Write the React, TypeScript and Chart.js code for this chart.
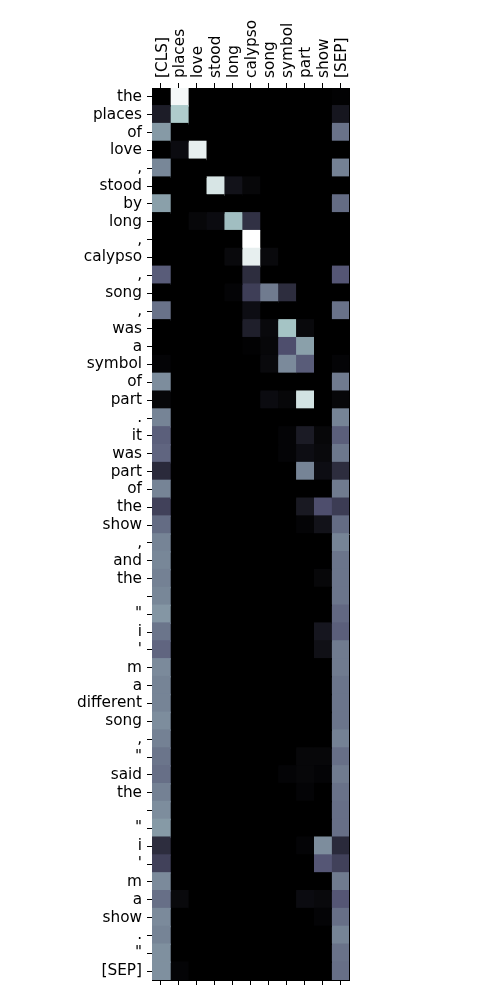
import React, { useEffect, useRef } from "react";
import { Chart, registerables } from "chart.js";

Chart.register(...registerables);

const columnLabels = ["[CLS]", "places", "love", "stood", "long", "calypso", "song", "symbol", "part", "show", "[SEP]"];

const rowLabels = [
  "the", "places", "of", "love", ",", "stood", "by", "long", ",", "calypso",
  ",", "song", ",", "was", "a", "symbol", "of", "part", ".", "it",
  "was", "part", "of", "the", "show", ",", "and", "the", "", "\"",
  "i", "'", "m", "a", "different", "song", ",", "\"", "said", "the",
  "", "\"", "i", "'", "m", "a", "show", ".", "\"", "[SEP]",
];

// attention weights per column (one value per row)
const clsWeights = [
  0, 0.13, 0.6, 0, 0.54, 0, 0.62, 0, 0, 0,
  0.4, 0, 0.47, 0, 0, 0.02, 0.56, 0.03, 0.53, 0.41,
  0.43, 0.19, 0.53, 0.29, 0.45, 0.53, 0.54, 0.52, 0.54, 0.59,
  0.48, 0.43, 0.55, 0.53, 0.53, 0.56, 0.52, 0.48, 0.46, 0.52,
  0.56, 0.6, 0.2, 0.29, 0.55, 0.46, 0.55, 0.53, 0.57, 0.57,
];
const placesWeights = [
  0.97, 0.77, 0, 0.05, 0, 0, 0, 0, 0, 0,
  0, 0, 0, 0, 0, 0, 0, 0, 0, 0,
  0, 0, 0, 0, 0, 0, 0, 0, 0, 0,
  0, 0, 0, 0, 0, 0, 0, 0, 0, 0,
  0, 0, 0, 0, 0, 0.04, 0, 0, 0, 0.02,
];
const loveWeights = [
  0, 0, 0, 0.93, 0, 0, 0, 0.03, 0, 0,
  0, 0, 0, 0, 0, 0, 0, 0, 0, 0,
  0, 0, 0, 0, 0, 0, 0, 0, 0, 0,
  0, 0, 0, 0, 0, 0, 0, 0, 0, 0,
  0, 0, 0, 0, 0, 0, 0, 0, 0, 0,
];
const stoodWeights = [
  0, 0, 0, 0, 0, 0.885, 0, 0.05, 0, 0,
  0, 0, 0, 0, 0, 0, 0, 0, 0, 0,
  0, 0, 0, 0, 0, 0, 0, 0, 0, 0,
  0, 0, 0, 0, 0, 0, 0, 0, 0, 0,
  0, 0, 0, 0, 0, 0, 0, 0, 0, 0,
];
const longWeights = [
  0, 0, 0, 0, 0, 0.08, 0, 0.72, 0, 0.04,
  0, 0.02, 0, 0, 0, 0, 0, 0, 0, 0,
  0, 0, 0, 0, 0, 0, 0, 0, 0, 0,
  0, 0, 0, 0, 0, 0, 0, 0, 0, 0,
  0, 0, 0, 0, 0, 0, 0, 0, 0, 0,
];
const calypsoWeights = [
  0, 0, 0, 0, 0, 0.03, 0, 0.22, 1, 0.93,
  0.2, 0.28, 0.06, 0.14, 0.01, 0, 0, 0, 0, 0,
  0, 0, 0, 0, 0, 0, 0, 0, 0, 0,
  0, 0, 0, 0, 0, 0, 0, 0, 0, 0,
  0, 0, 0, 0, 0, 0, 0, 0, 0, 0,
];
const songWeights = [
  0, 0, 0, 0, 0, 0, 0, 0, 0, 0.04,
  0, 0.5, 0, 0.04, 0.03, 0.04, 0, 0.05, 0, 0,
  0, 0, 0, 0, 0, 0, 0, 0, 0, 0,
  0, 0, 0, 0, 0, 0, 0, 0, 0, 0,
  0, 0, 0, 0, 0, 0, 0, 0, 0, 0,
];
const symbolWeights = [
  0, 0, 0, 0, 0, 0, 0, 0, 0, 0,
  0, 0.2, 0, 0.74, 0.35, 0.55, 0, 0.03, 0, 0.02,
  0.02, 0, 0, 0, 0, 0, 0, 0, 0, 0,
  0, 0, 0, 0, 0, 0, 0, 0, 0.02, 0,
  0, 0, 0, 0, 0, 0, 0, 0, 0, 0,
];
const partWeights = [
  0, 0, 0, 0, 0, 0, 0, 0, 0, 0,
  0, 0, 0, 0.04, 0.62, 0.4, 0, 0.87, 0, 0.12,
  0.06, 0.53, 0, 0.11, 0.02, 0, 0, 0, 0, 0,
  0, 0, 0, 0, 0, 0, 0, 0.03, 0.03, 0.02,
  0, 0, 0.02, 0, 0, 0.05, 0, 0, 0, 0,
];
const showWeights = [
  0, 0, 0, 0, 0, 0, 0, 0, 0, 0,
  0, 0, 0, 0, 0, 0, 0, 0, 0, 0.03,
  0.04, 0.06, 0, 0.35, 0.08, 0, 0, 0.03, 0, 0,
  0.1, 0.07, 0, 0, 0, 0, 0, 0.03, 0.02, 0,
  0, 0, 0.56, 0.38, 0, 0.04, 0.02, 0, 0, 0,
];
const sepWeights = [
  0.01, 0.1, 0.47, 0, 0.52, 0, 0.45, 0, 0, 0,
  0.38, 0, 0.47, 0, 0, 0.02, 0.5, 0.03, 0.53, 0.41,
  0.49, 0.2, 0.5, 0.27, 0.45, 0.53, 0.48, 0.48, 0.48, 0.44,
  0.41, 0.5, 0.5, 0.48, 0.48, 0.48, 0.52, 0.46, 0.5, 0.47,
  0.46, 0.46, 0.19, 0.29, 0.5, 0.38, 0.46, 0.53, 0.47, 0.46,
];

const columnWeights = [
  clsWeights, placesWeights, loveWeights, stoodWeights, longWeights, calypsoWeights,
  songWeights, symbolWeights, partWeights, showWeights, sepWeights,
];

// matplotlib "bone" colormap
function bone(v: number): string {
  const x = Math.max(0, Math.min(1, v));
  const r = x < 0.746032 ? (x * 0.652778) / 0.746032 : 0.652778 + ((x - 0.746032) * (1 - 0.652778)) / (1 - 0.746032);
  const g =
    x < 0.365079
      ? (x * 0.319444) / 0.365079
      : x < 0.746032
      ? 0.319444 + ((x - 0.365079) * (0.777778 - 0.319444)) / (0.746032 - 0.365079)
      : 0.777778 + ((x - 0.746032) * (1 - 0.777778)) / (1 - 0.746032);
  const b = x < 0.365079 ? (x * 0.444444) / 0.365079 : 0.444444 + ((x - 0.365079) * (1 - 0.444444)) / (1 - 0.365079);
  return `rgb(${Math.round(r * 255)},${Math.round(g * 255)},${Math.round(b * 255)})`;
}

const FONT = { family: "'DejaVu Sans', sans-serif", size: 15.3 };

export default function App() {
  const ref = useRef<HTMLCanvasElement | null>(null);

  useEffect(() => {
    if (!ref.current) return;
    const colTicks = (s: any) => {
      s.ticks = columnLabels.map((_, i) => ({ value: i + 0.5 }));
    };
    const chart = new Chart(ref.current, {
      type: "bar",
      data: {
        labels: rowLabels,
        datasets: columnLabels.map((col, c) => ({
          label: col,
          data: rowLabels.map(() => [c, c + 1]),
          backgroundColor: columnWeights[c].map(bone),
          borderWidth: 0,
          inflateAmount: 0.8,
          barPercentage: 1,
          categoryPercentage: 1,
          grouped: false,
          xAxisID: "x",
          yAxisID: "y",
        })) as any,
      },
      options: {
        indexAxis: "y",
        animation: false,
        responsive: false,
        devicePixelRatio: 1,
        layout: { padding: { left: 0, right: 151, top: 0, bottom: 0 } },
        plugins: { legend: { display: false }, tooltip: { enabled: false } },
        scales: {
          x: {
            type: "linear",
            position: "top",
            min: 0,
            max: 11,
            afterBuildTicks: colTicks,
            afterFit: (s: any) => {
              s.height = 88;
            },
            ticks: {
              autoSkip: false,
              maxRotation: 90,
              minRotation: 90,
              padding: 5,
              labelOffset: 20,
              color: "#000",
              font: FONT,
              callback: (v: any) => columnLabels[Math.round(Number(v) - 0.5)],
            },
            grid: { drawOnChartArea: false, tickLength: 5, color: "#000", tickWidth: 1 },
            border: { color: "#000", width: 1 },
          },
          x2: {
            type: "linear",
            position: "bottom",
            min: 0,
            max: 11,
            afterBuildTicks: colTicks,
            afterFit: (s: any) => {
              s.height = 20;
            },
            ticks: { autoSkip: false, color: "#000", font: FONT, padding: 2, callback: () => "" },
            grid: { drawOnChartArea: false, tickLength: 5, color: "#000", tickWidth: 1 },
            border: { color: "#000", width: 1 },
          },
          y: {
            type: "category",
            position: "left",
            offset: true,
            afterFit: (s: any) => {
              s.width = 152;
            },
            ticks: { autoSkip: false, padding: 5, color: "#000", font: FONT },
            grid: { offset: false, drawOnChartArea: false, tickLength: 5, color: "#000", tickWidth: 1 },
            border: { color: "#000", width: 1 },
          },
          y2: {
            type: "category",
            position: "right",
            offset: true,
            afterFit: (s: any) => {
              s.width = 0;
            },
            ticks: { display: false },
            grid: { display: false },
            border: { color: "#000", width: 1 },
          },
        },
      } as any,
    });
    return () => chart.destroy();
  }, []);

  return (
    <div style={{ position: "absolute", left: 0, top: 0, width: 500, height: 1000, background: "#fff" }}>
      <canvas ref={ref} width={500} height={1000} style={{ width: 500, height: 1000, display: "block" }} />
    </div>
  );
}
